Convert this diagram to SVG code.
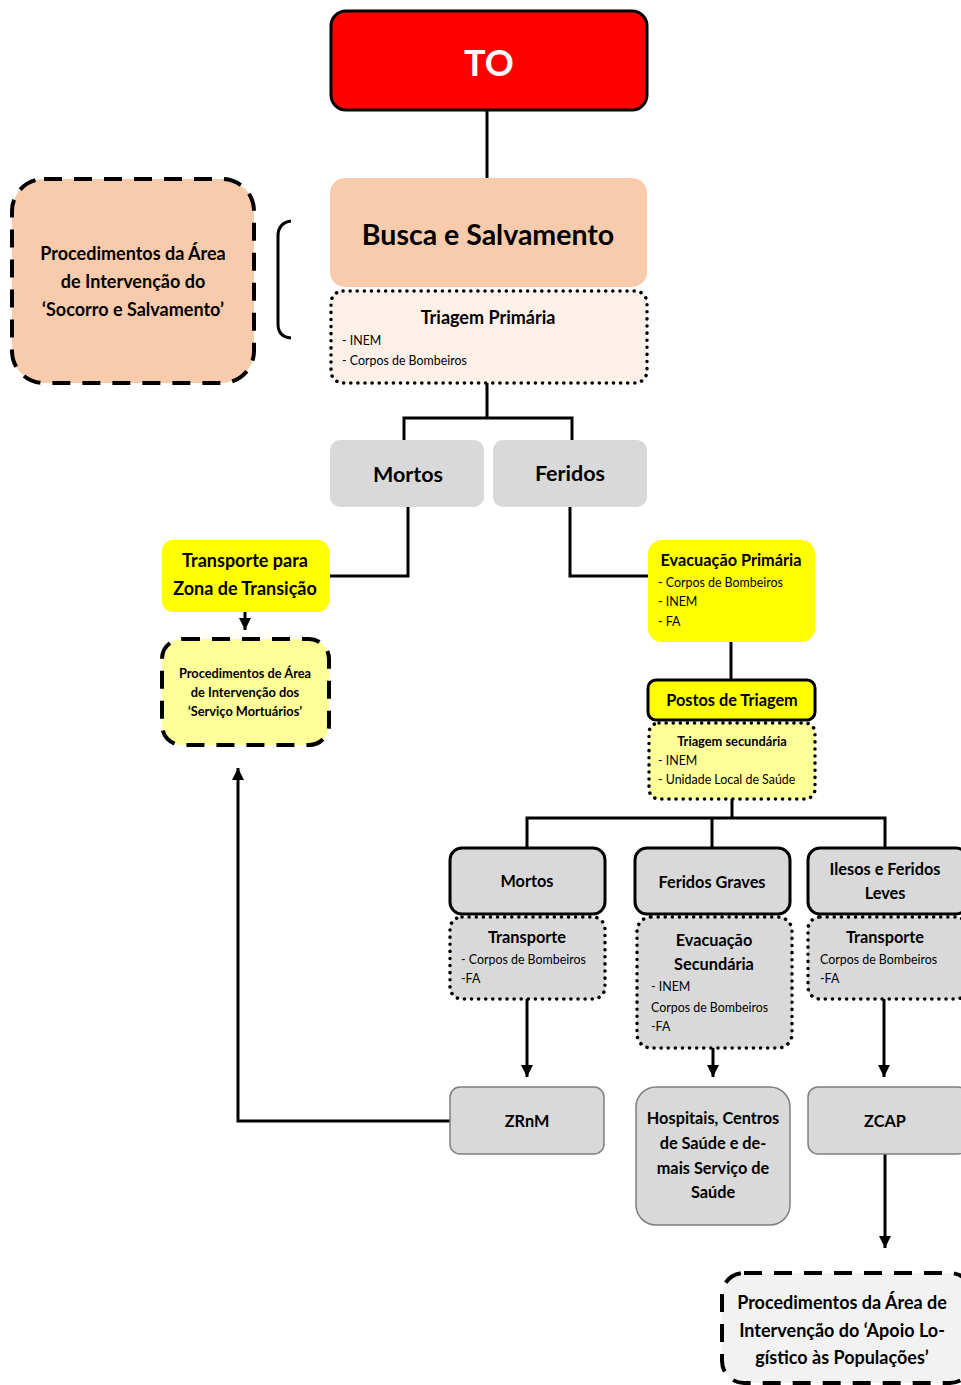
<svg xmlns="http://www.w3.org/2000/svg" width="961" height="1385" viewBox="0 0 961 1385">
<style>
text{font-family:Lato,"Open Sans","Liberation Sans",sans-serif;fill:#000}
.b{font-weight:bold}
.c{text-anchor:middle}
.s{font-size:12.4px}
.sb{font-size:12.8px;font-weight:bold}
.m{font-size:16.3px;font-weight:bold}
.l{font-size:18px;font-weight:bold}
.ln{fill:none;stroke:#000;stroke-width:3}
.gray{fill:#D9D9D9}
.dot{stroke:#000;stroke-width:3.5;stroke-dasharray:0.1 7;stroke-linecap:round}
.dash{stroke:#000;stroke-width:4;stroke-dasharray:18 12}
.solid{stroke:#000;stroke-width:3}
</style>
<defs>
<marker id="ah" viewBox="0 0 10 10" refX="10" refY="5" markerWidth="4" markerHeight="4" orient="auto" markerUnits="strokeWidth">
<path d="M0,0 L10,5 L0,10 z" fill="#000"/>
</marker>
</defs>
<rect width="961" height="1385" fill="#fff"/>

<g id="connectors">
<path class="ln" d="M487,110 V178"/>
<path class="ln" d="M487,383 V418 M404,440 V418 H572 V440"/>
<path class="ln" d="M408,507 V576 H330"/>
<path class="ln" d="M570,507 V576 H648"/>
<path class="ln" d="M245,612 V630" marker-end="url(#ah)"/>
<path class="ln" d="M731,642 V680"/>
<path class="ln" d="M732,799 V818 M527,848 V818 H885 V848 M712,818 V848"/>
<path class="ln" d="M527,999 V1077" marker-end="url(#ah)"/>
<path class="ln" d="M713,1048 V1077" marker-end="url(#ah)"/>
<path class="ln" d="M884,999 V1077" marker-end="url(#ah)"/>
<path class="ln" d="M450,1121 H238 V768" marker-end="url(#ah)"/>
<path class="ln" d="M885,1154 V1248" marker-end="url(#ah)"/>
<path class="ln" d="M291,221 Q278,223 278,236 V324 Q278,337 291,338"/>
</g>

<g id="to">
<rect x="331" y="11" width="316" height="99" rx="15" fill="#FF0000" class="solid"/>
<text x="489" y="76" class="b c" font-size="36" style="fill:#fff">TO</text>
</g>

<g id="busca">
<rect x="330" y="178" width="317" height="109" rx="15" fill="#F8CBAD"/>
<text x="488" y="245" class="b c" font-size="28.5">Busca e Salvamento</text>
</g>

<g id="triagem-primaria">
<rect x="331" y="291" width="316" height="92" rx="12" fill="#FCF0E8" class="dot"/>
<text x="488" y="324" class="l c">Triagem Primária</text>
<text x="342" y="345" class="s">- INEM</text>
<text x="342" y="365" class="s">- Corpos de Bombeiros</text>
</g>

<g id="area-socorro">
<rect x="12" y="179" width="242" height="204" rx="32" fill="#F8CBAD" class="dash"/>
<text x="133" y="260" class="l c">Procedimentos da Área</text>
<text x="133" y="288" class="l c">de Intervenção do</text>
<text x="133" y="316" class="l c">‘Socorro e Salvamento’</text>
</g>

<g id="mortos">
<rect x="330" y="440" width="154" height="67" rx="10" class="gray"/>
<text x="408" y="482" class="b c" font-size="21.5">Mortos</text>
</g>
<g id="feridos">
<rect x="493" y="440" width="154" height="67" rx="10" class="gray"/>
<text x="570" y="481" class="b c" font-size="21.5">Feridos</text>
</g>

<g id="transporte-zona">
<rect x="162" y="540" width="167" height="72" rx="11" fill="#FFFF00"/>
<text x="245" y="567" class="l c">Transporte para</text>
<text x="245" y="595" class="l c">Zona de Transição</text>
</g>

<g id="servico-mortuario">
<rect x="162" y="639" width="167" height="106" rx="20" fill="#FFFF99" class="dash"/>
<text x="245" y="678" class="sb c">Procedimentos de Área</text>
<text x="245" y="697" class="sb c">de Intervenção dos</text>
<text x="245" y="716" class="sb c">‘Serviço Mortuários’</text>
</g>

<g id="evacuacao-primaria">
<rect x="648" y="540" width="167" height="102" rx="14" fill="#FFFF00"/>
<text x="731" y="566" class="m c">Evacuação Primária</text>
<text x="658" y="587" class="s">- Corpos de Bombeiros</text>
<text x="658" y="606" class="s">- INEM</text>
<text x="658" y="626" class="s">- FA</text>
</g>

<g id="postos-triagem">
<rect x="648" y="680" width="167" height="40" rx="8" fill="#FFFF00" class="solid"/>
<text x="732" y="706" class="m c">Postos de Triagem</text>
</g>

<g id="triagem-secundaria">
<rect x="649" y="723" width="166" height="76" rx="10" fill="#FFFF99" class="dot"/>
<text x="732" y="746" class="sb c">Triagem secundária</text>
<text x="658" y="765" class="s">- INEM</text>
<text x="658" y="784" class="s">- Unidade Local de Saúde</text>
</g>

<g id="mortos2">
<rect x="450" y="848" width="155" height="66" rx="12" class="gray solid"/>
<text x="527" y="887" class="m c">Mortos</text>
</g>
<g id="transporte-mortos">
<rect x="450" y="917" width="155" height="82" rx="12" class="gray dot"/>
<text x="527" y="943" class="m c">Transporte</text>
<text x="461" y="964" class="s">- Corpos de Bombeiros</text>
<text x="461" y="983" class="s">-FA</text>
</g>

<g id="feridos-graves">
<rect x="635" y="848" width="155" height="66" rx="12" class="gray solid"/>
<text x="712" y="888" class="m c">Feridos Graves</text>
</g>
<g id="evacuacao-secundaria">
<rect x="637" y="917" width="155" height="131" rx="14" class="gray dot"/>
<text x="714" y="946" class="m c">Evacuação</text>
<text x="714" y="970" class="m c">Secundária</text>
<text x="651" y="991" class="s">- INEM</text>
<text x="651" y="1012" class="s">Corpos de Bombeiros</text>
<text x="651" y="1031" class="s">-FA</text>
</g>

<g id="ilesos">
<rect x="808" y="848" width="160" height="66" rx="12" class="gray solid"/>
<text x="885" y="875" class="m c">Ilesos e Feridos</text>
<text x="885" y="899" class="m c">Leves</text>
</g>
<g id="transporte-ilesos">
<rect x="808" y="917" width="160" height="82" rx="12" class="gray dot"/>
<text x="885" y="943" class="m c">Transporte</text>
<text x="820" y="964" class="s">Corpos de Bombeiros</text>
<text x="820" y="983" class="s">-FA</text>
</g>

<g id="zrnm">
<rect x="450" y="1087" width="154" height="67" rx="10" class="gray" stroke="#7F7F7F" stroke-width="1.5"/>
<text x="527" y="1127" class="m c">ZRnM</text>
</g>
<g id="hospitais">
<rect x="636" y="1087" width="154" height="138" rx="20" class="gray" stroke="#7F7F7F" stroke-width="1.5"/>
<text x="713" y="1124" class="m c">Hospitais, Centros</text>
<text x="713" y="1149" class="m c">de Saúde e de-</text>
<text x="713" y="1174" class="m c">mais Serviço de</text>
<text x="713" y="1198" class="m c">Saúde</text>
</g>
<g id="zcap">
<rect x="808" y="1087" width="160" height="67" rx="10" class="gray" stroke="#7F7F7F" stroke-width="1.5"/>
<text x="885" y="1127" class="m c">ZCAP</text>
</g>

<g id="apoio-logistico">
<rect x="722" y="1273" width="250" height="110" rx="22" fill="#F2F2F2" class="dash"/>
<text x="842" y="1309" class="l c">Procedimentos da Área de</text>
<text x="842" y="1337" class="l c">Intervenção do ‘Apoio Lo-</text>
<text x="842" y="1364" class="l c">gístico às Populações’</text>
</g>
</svg>
